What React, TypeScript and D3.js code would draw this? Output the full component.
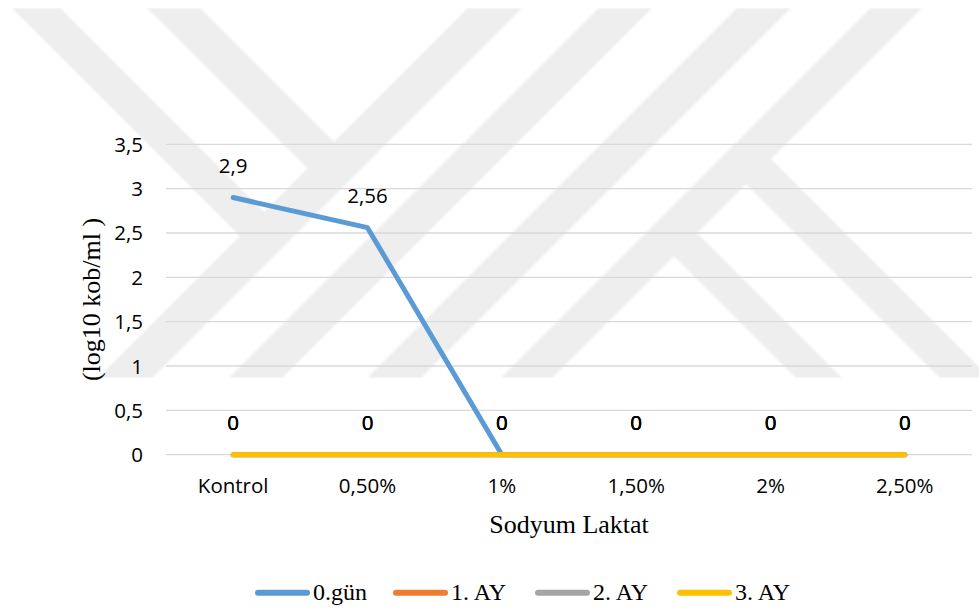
import React from "react";
import * as d3 from "d3";

const categories = ["Kontrol", "0,50%", "1%", "1,50%", "2%", "2,50%"];
const seriesNames = ["0.gün", "1. AY", "2. AY", "3. AY"];
const gun0 = [2.9, 2.56, 0, 0, 0, 0];
const ay1 = [0, 0, 0, 0, 0, 0];
const ay2 = [0, 0, 0, 0, 0, 0];
const ay3 = [0, 0, 0, 0, 0, 0];
const yTicks = [0, 0.5, 1, 1.5, 2, 2.5, 3, 3.5];
const colors = ["#5B9BD5", "#ED7D31", "#A5A5A5", "#FFC000"];

const W = 979;
const H = 612;
const plot = { left: 166, right: 972, top: 144.3, bottom: 454.7 };

// decorative watermark (light grey diagonal bands)
const wmTop = 8;
const wmBottom = 378;
const slashBands = [
  [468, 522],
  [599, 652],
  [737, 791],
  [871, 922],
];
const backBands: [number, number][][] = [
  [[12, 8], [60, 8], [277.5, 225.5], [253.5, 249.5]],
  [[147, 8], [200, 8], [347.5, 155.5], [321, 182]],
  [[758.25, 146.25], [990, 378], [940, 378], [733.25, 171.25]],
  [[684.25, 220.25], [842, 378], [796, 378], [661.25, 243.25]],
];

const fmt = (v: number) => String(v).replace(".", ",");

export default function App() {
  const x = d3
    .scalePoint<string>()
    .domain(categories)
    .range([plot.left, plot.right])
    .padding(0.5);
  const y = d3.scaleLinear().domain([0, 3.5]).range([plot.bottom, plot.top]);
  const all = [gun0, ay1, ay2, ay3];
  const line = d3
    .line<number>()
    .x((_, i) => x(categories[i]) as number)
    .y((d) => y(d));

  const sans = "'Open Sans', sans-serif";
  const serif = "'Liberation Serif', 'Times New Roman', serif";
  const h = wmBottom - wmTop;

  const legendX = [255, 393, 535, 677];

  return (
    <svg
      width={W}
      height={H}
      style={{ position: "absolute", left: 0, top: 0, background: "#fff" }}
    >
      <defs>
        <filter id="soft" x="-5%" y="-5%" width="110%" height="110%">
          <feGaussianBlur stdDeviation="0.8" />
        </filter>
        <clipPath id="wmclip">
          <rect x={0} y={wmTop} width={W} height={h} />
        </clipPath>
      </defs>
      <rect x={0} y={0} width={W} height={H} fill="#fff" />
      <g clipPath="url(#wmclip)" filter="url(#soft)" fill="#eeeeee">
        {slashBands.map(([l, r], i) => (
          <polygon
            key={"s" + i}
            points={`${l},${wmTop} ${r},${wmTop} ${r - h},${wmBottom} ${l - h},${wmBottom}`}
          />
        ))}
        {backBands.map((pts, i) => (
          <polygon key={"b" + i} points={pts.map((p) => p.join(",")).join(" ")} />
        ))}
      </g>

      {yTicks.map((t) => (
        <g key={t}>
          <line
            x1={plot.left}
            x2={plot.right}
            y1={y(t)}
            y2={y(t)}
            stroke="#d9d9d9"
            strokeWidth={1.3}
          />
          <text
            x={143}
            y={y(t) + 7.5}
            textAnchor="end"
            fontFamily={sans}
            fontSize={20.5}
            fill="#000"
          >
            {fmt(t)}
          </text>
        </g>
      ))}

      {all.map((s, i) => (
        <path
          key={i}
          d={line(s) || ""}
          fill="none"
          stroke={colors[i]}
          strokeWidth={5}
          strokeLinejoin="round"
          strokeLinecap="round"
        />
      ))}

      {all.map((s, i) =>
        s.map((v, j) => (
          <text
            key={i + "-" + j}
            x={x(categories[j])}
            y={y(v) - 24.5}
            textAnchor="middle"
            fontFamily={sans}
            fontSize={20.5}
            fill="#000"
          >
            {fmt(v)}
          </text>
        ))
      )}

      {categories.map((c) => (
        <text
          key={c}
          x={x(c)}
          y={493}
          textAnchor="middle"
          fontFamily={sans}
          fontSize={20.5}
          fill="#000"
        >
          {c}
        </text>
      ))}

      <text
        x={(plot.left + plot.right) / 2}
        y={533}
        textAnchor="middle"
        fontFamily={serif}
        fontSize={26}
        fill="#000"
      >
        Sodyum Laktat
      </text>
      <text
        transform={`translate(100, ${(plot.top + plot.bottom) / 2}) rotate(-90)`}
        textAnchor="middle"
        fontFamily={serif}
        fontSize={26}
        fill="#000"
      >
        (log10 kob/ml )
      </text>

      {seriesNames.map((n, i) => (
        <g key={n}>
          <line
            x1={legendX[i] + 3}
            x2={legendX[i] + 52}
            y1={592.7}
            y2={592.7}
            stroke={colors[i]}
            strokeWidth={6}
            strokeLinecap="round"
          />
          <text
            x={legendX[i] + 58}
            y={600}
            fontFamily={serif}
            fontSize={24}
            fill="#000"
          >
            {n}
          </text>
        </g>
      ))}
    </svg>
  );
}
